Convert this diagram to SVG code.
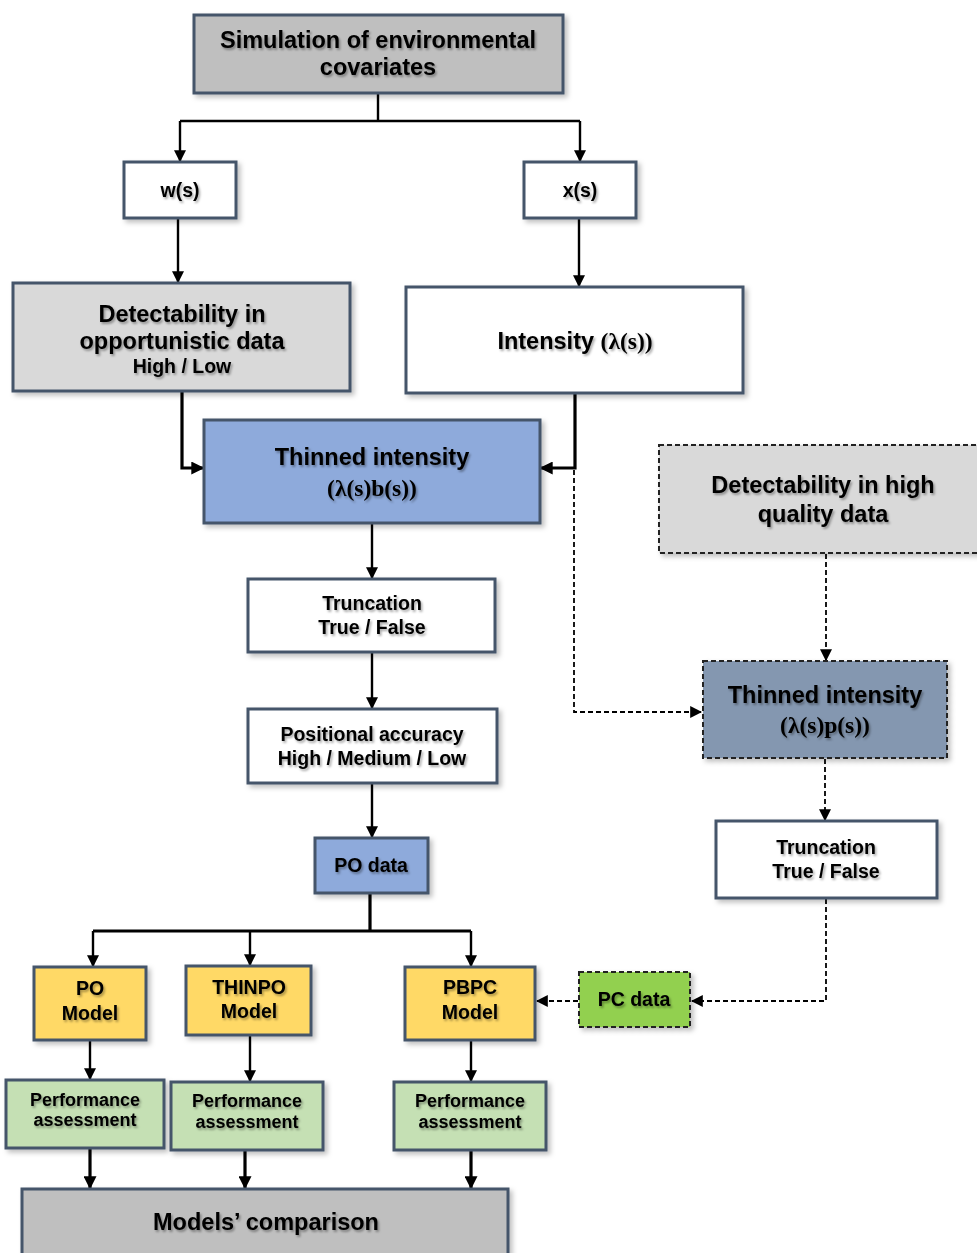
<svg xmlns="http://www.w3.org/2000/svg" width="977" height="1253" viewBox="0 0 977 1253">
<defs>
<filter id="sh" x="-10%" y="-10%" width="125%" height="130%">
<feDropShadow dx="3" dy="3" stdDeviation="2.5" flood-color="#000" flood-opacity="0.25"/>
</filter>
<filter id="ts" x="-5%" y="-20%" width="115%" height="150%">
<feDropShadow dx="1.5" dy="2" stdDeviation="1.2" flood-color="#000" flood-opacity="0.35"/>
</filter>
<marker id="ah" viewBox="0 0 10 10" refX="9" refY="5" markerWidth="12" markerHeight="12" markerUnits="userSpaceOnUse" orient="auto">
<path d="M0,0 L10,5 L0,10 Z" fill="#000"/>
</marker>
<marker id="ah2" viewBox="0 0 10 10" refX="9" refY="5" markerWidth="13" markerHeight="13" markerUnits="userSpaceOnUse" orient="auto">
<path d="M0,0 L10,5 L0,10 Z" fill="#000"/>
</marker>
</defs>
<style>
.box{stroke:#44546a;stroke-width:3;filter:url(#sh)}
.dbox{stroke:#222;stroke-width:2;stroke-dasharray:5,3;filter:url(#sh)}
text{font-family:"Liberation Sans",Arial,sans-serif;font-weight:bold;fill:#000;text-anchor:middle;filter:url(#ts)}
.L{font-size:23.5px}
.M{font-size:19.5px}
.S{font-size:18px}
.m{font-family:"Liberation Serif","Times New Roman",serif}
.c{fill:none;stroke:#000;stroke-width:2.4;marker-end:url(#ah)}
.ct{fill:none;stroke:#000;stroke-width:3.2;marker-end:url(#ah2)}
.cl{fill:none;stroke:#000;stroke-width:3.2}
.cd{fill:none;stroke:#000;stroke-width:1.8;stroke-dasharray:5,3;marker-end:url(#ah)}
</style>
<rect width="977" height="1253" fill="#fff"/>

<g id="connectors">
<path class="c" d="M378,93 V121" style="marker-end:none"/>
<path class="c" d="M180,121 H580" style="marker-end:none"/>
<path class="c" d="M180,121 V161"/>
<path class="c" d="M580,121 V161"/>
<path class="c" d="M178,218 V282"/>
<path class="c" d="M579,218 V286"/>
<path class="ct" d="M182,391 V468 H203"/>
<path class="ct" d="M575,393 V468 H541"/>
<path class="cd" d="M574,470 V712 H701"/>
<path class="cd" d="M826,554 V660"/>
<path class="cd" d="M825,759 V820"/>
<path class="c" d="M372,523 V578"/>
<path class="c" d="M372,652 V708"/>
<path class="c" d="M372,783 V837"/>
<path class="cl" d="M370,893 V931 H93 M370,931 H471"/>
<path class="c" d="M93,931 V966"/>
<path class="c" d="M250,931 V965"/>
<path class="c" d="M471,931 V966"/>
<path class="cd" d="M826,899 V1001 H692"/>
<path class="cd" d="M578,1001 H537"/>
<path class="c" d="M90,1040 V1079"/>
<path class="c" d="M250,1035 V1081"/>
<path class="c" d="M471,1040 V1081"/>
<path class="ct" d="M90,1148 V1188"/>
<path class="ct" d="M245,1150 V1188"/>
<path class="ct" d="M471,1150 V1188"/>
</g>

<g id="n-sim"><rect class="box" x="194" y="15" width="369" height="78" fill="#bfbfbf"/>
<text x="378" y="48" class="L">Simulation of environmental</text>
<text x="378" y="75" class="L">covariates</text></g>

<g id="n-ws"><rect class="box" x="124" y="162" width="112" height="56" fill="#fff"/>
<text x="180" y="197" class="M">w(s)</text></g>

<g id="n-xs"><rect class="box" x="524" y="162" width="112" height="56" fill="#fff"/>
<text x="580" y="197" class="M">x(s)</text></g>

<g id="n-detopp"><rect class="box" x="13" y="283" width="337" height="108" fill="#d9d9d9"/>
<text x="182" y="322" class="L">Detectability in</text>
<text x="182" y="349" class="L">opportunistic data</text>
<text x="182" y="373" class="M">High / Low</text></g>

<g id="n-int"><rect class="box" x="406" y="287" width="337" height="106" fill="#fff"/>
<text x="575" y="349" class="L">Intensity <tspan class="m">(λ(s))</tspan></text></g>

<g id="n-thin1"><rect class="box" x="204" y="420" width="336" height="103" fill="#8eaadb"/>
<text x="372" y="465" class="L">Thinned intensity</text>
<text x="372" y="496" class="L m">(λ(s)b(s))</text></g>

<g id="n-dethq"><rect class="dbox" x="659" y="445" width="325" height="108" fill="#d9d9d9"/>
<text x="823" y="493" class="L">Detectability in high</text>
<text x="823" y="522" class="L">quality data</text></g>

<g id="n-trunc1"><rect class="box" x="248" y="579" width="247" height="73" fill="#fff"/>
<text x="372" y="610" class="M">Truncation</text>
<text x="372" y="634" class="M">True / False</text></g>

<g id="n-pos"><rect class="box" x="248" y="709" width="249" height="74" fill="#fff"/>
<text x="372" y="741" class="M">Positional accuracy</text>
<text x="372" y="765" class="M">High / Medium / Low</text></g>

<g id="n-thin2"><rect class="dbox" x="703" y="661" width="244" height="97" fill="#8497b0"/>
<text x="825" y="703" class="L">Thinned intensity</text>
<text x="825" y="733" class="L m">(λ(s)p(s))</text></g>

<g id="n-trunc2"><rect class="box" x="716" y="821" width="221" height="77" fill="#fff"/>
<text x="826" y="854" class="M">Truncation</text>
<text x="826" y="878" class="M">True / False</text></g>

<g id="n-podata"><rect class="box" x="315" y="838" width="113" height="55" fill="#8eaadb"/>
<text x="371" y="872" class="M">PO data</text></g>

<g id="n-pomodel"><rect class="box" x="34" y="967" width="112" height="73" fill="#ffd966"/>
<text x="90" y="995" class="M">PO</text>
<text x="90" y="1020" class="M">Model</text></g>

<g id="n-thinpo"><rect class="box" x="186" y="966" width="125" height="69" fill="#ffd966"/>
<text x="249" y="994" class="M">THINPO</text>
<text x="249" y="1018" class="M">Model</text></g>

<g id="n-pbpc"><rect class="box" x="405" y="967" width="130" height="73" fill="#ffd966"/>
<text x="470" y="994" class="M">PBPC</text>
<text x="470" y="1019" class="M">Model</text></g>

<g id="n-pcdata"><rect class="dbox" x="579" y="972" width="111" height="55" fill="#92d050"/>
<text x="634" y="1006" class="M">PC data</text></g>

<g id="n-perf1"><rect class="box" x="6" y="1080" width="158" height="68" fill="#c5e0b4"/>
<text x="85" y="1106" class="S">Performance</text>
<text x="85" y="1126" class="S">assessment</text></g>

<g id="n-perf2"><rect class="box" x="171" y="1082" width="152" height="68" fill="#c5e0b4"/>
<text x="247" y="1107" class="S">Performance</text>
<text x="247" y="1128" class="S">assessment</text></g>

<g id="n-perf3"><rect class="box" x="394" y="1082" width="152" height="68" fill="#c5e0b4"/>
<text x="470" y="1107" class="S">Performance</text>
<text x="470" y="1128" class="S">assessment</text></g>

<g id="n-comp"><rect class="box" x="22" y="1189" width="486" height="80" fill="#bfbfbf"/>
<text x="266" y="1230" class="L">Models’ comparison</text></g>
</svg>
